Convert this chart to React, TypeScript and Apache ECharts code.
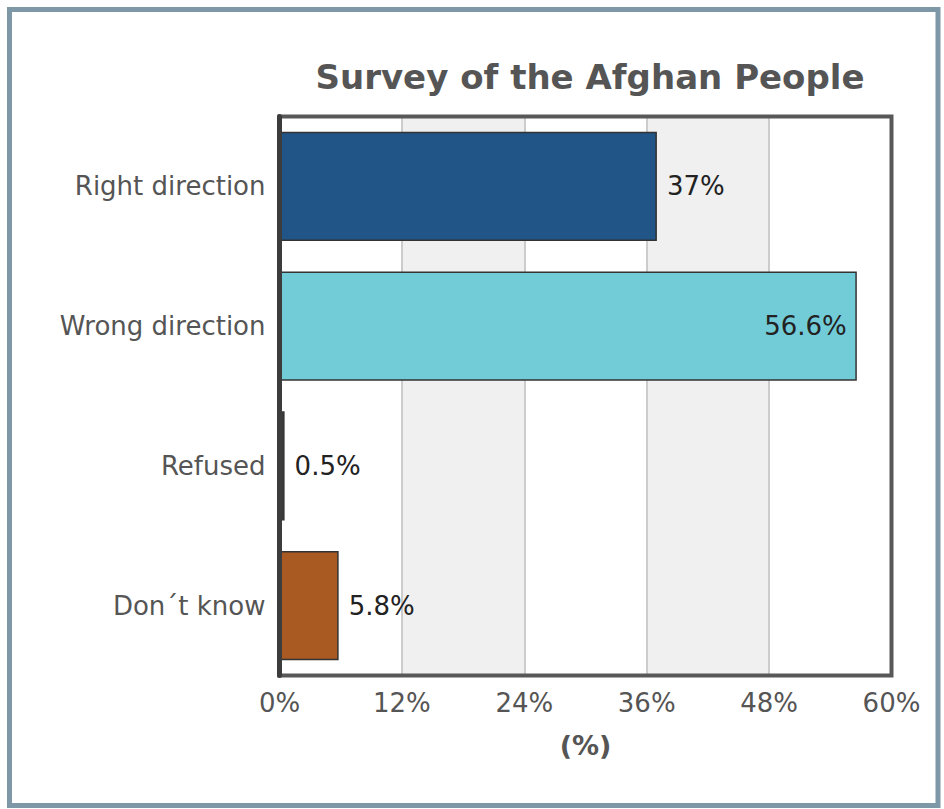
import React, { useEffect, useRef } from "react";
import * as echarts from "echarts";

const categories = ["Right direction", "Wrong direction", "Refused", "Don´t know"];
const values = [37, 56.6, 0.5, 5.8];
const barColors = ["#215587", "#72ccd8", "#3a3a3a", "#a85a22"];
const labelPositions = ["right", "insideRight", "right", "right"];
const xTicks = [0, 12, 24, 36, 48, 60];

export default function App() {
  const ref = useRef<HTMLDivElement>(null);
  useEffect(() => {
    if (!ref.current) return;
    const chart = echarts.init(ref.current, undefined, { renderer: "svg" });
    const font = "DejaVu Sans, Verdana, sans-serif";
    const gl = 279.5, gt = 116.5, gr = 52.5, gb = 133.5;
    chart.setOption({
      animation: false,
      backgroundColor: "#ffffff",
      title: {
        text: "Survey of the Afghan People",
        left: 585,
        textAlign: "center",
        top: 55,
        textStyle: { fontFamily: font, fontSize: 34, fontWeight: "bold", color: "#555555" },
      },
      graphic: [
        {
          type: "rect",
          shape: { x: 9.5, y: 9.5, width: 928.5, height: 796 },
          style: { fill: "none", stroke: "#7f98a8", lineWidth: 5 },
          silent: true,
        },
        {
          type: "rect",
          z: 100,
          shape: { x: gl, y: gt, width: 944 - gl - gr, height: 809 - gt - gb },
          style: { fill: "none", stroke: "#585858", lineWidth: 4 },
          silent: true,
        },
      ],
      grid: {
        left: gl,
        top: gt,
        right: gr,
        bottom: gb,
        show: false,
        containLabel: false,
      },
      xAxis: {
        type: "value",
        min: xTicks[0],
        max: xTicks[xTicks.length - 1],
        interval: 12,
        name: "(%)",
        nameLocation: "middle",
        nameGap: 56,
        nameTextStyle: { fontFamily: font, fontSize: 27, fontWeight: "bold", color: "#555555" },
        axisLine: { show: false },
        axisTick: { show: false },
        axisLabel: {
          formatter: "{value}%",
          fontFamily: font,
          fontSize: 26,
          color: "#555555",
          margin: 14,
        },
        splitLine: { show: true, lineStyle: { color: "#cccccc", width: 2 } },
        splitArea: { show: true, areaStyle: { color: ["#ffffff", "#f0f0f0"] } },
      },
      yAxis: {
        type: "category",
        data: categories,
        inverse: true,
        axisLine: { show: true, lineStyle: { color: "#3c3c3c", width: 5 } },
        axisTick: { show: false },
        axisLabel: { fontFamily: font, fontSize: 26, color: "#555555", margin: 14 },
        splitLine: { show: false },
        z: 101,
      },
      series: [
        {
          type: "bar",
          barCategoryGap: "22%",
          data: values.map((v, i) => ({
            value: v,
            itemStyle: { color: barColors[i] },
            label: { position: labelPositions[i] },
          })),
          itemStyle: { borderColor: "#333333", borderWidth: 1.5 },
          label: {
            show: true,
            formatter: "{c}%",
            fontFamily: font,
            fontSize: 26,
            color: "#222222",
            distance: 10,
          },
        },
      ],
    });
    return () => chart.dispose();
  }, []);
  return (
    <div
      ref={ref}
      style={{ position: "absolute", left: 0, top: 0, width: 944, height: 809 }}
    />
  );
}
